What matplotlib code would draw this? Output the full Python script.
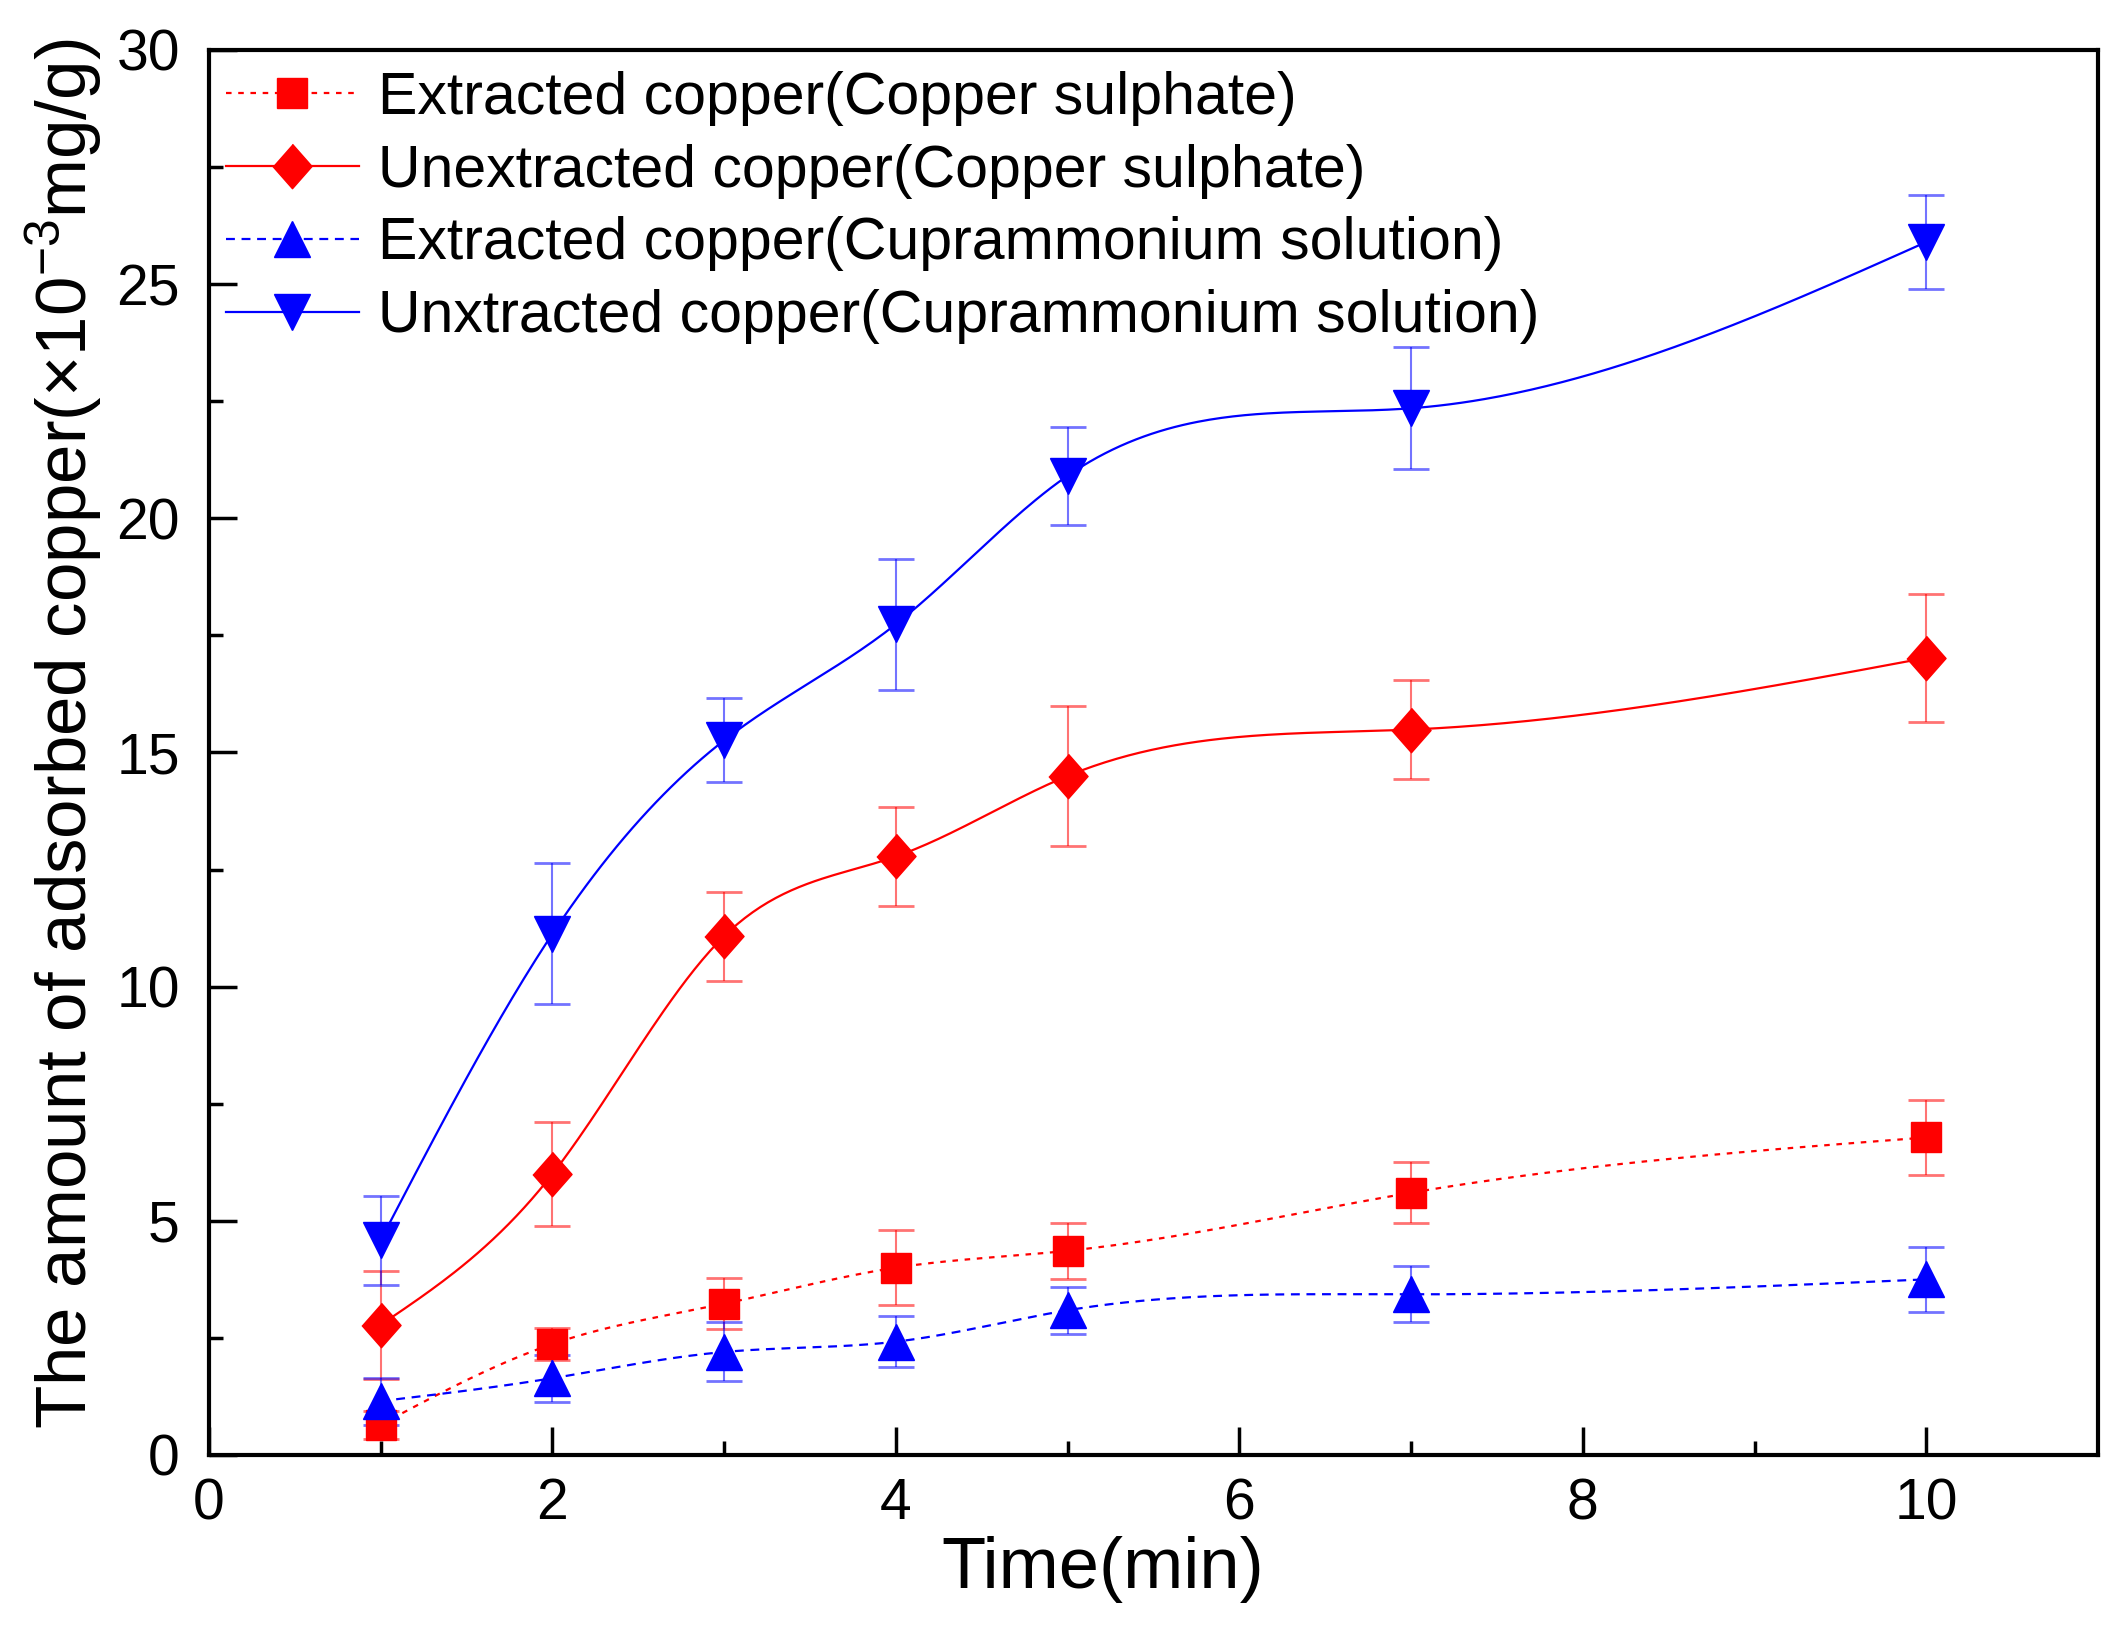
import numpy as np
import matplotlib
matplotlib.use("Agg")
import matplotlib.pyplot as plt

plt.rcParams['font.family'] = ['Liberation Sans', 'DejaVu Sans']
plt.rcParams['mathtext.default'] = 'regular'

# time points (min)
t = [1, 2, 3, 4, 5, 7, 10]

# adsorbed copper (x10^-3 mg/g) and error bars
ext_cs = [0.65, 2.37, 3.23, 4.0, 4.36, 5.6, 6.78]
ext_cs_err = [0.3, 0.35, 0.55, 0.8, 0.6, 0.65, 0.8]
unext_cs = [2.78, 6.0, 11.08, 12.78, 14.5, 15.49, 17.02]
unext_cs_err = [1.15, 1.1, 0.95, 1.05, 1.5, 1.05, 1.37]
ext_cu = [1.15, 1.64, 2.2, 2.42, 3.09, 3.43, 3.75]
ext_cu_err = [0.5, 0.5, 0.63, 0.55, 0.5, 0.6, 0.7]
unext_cu = [4.59, 11.13, 15.26, 17.74, 20.91, 22.35, 25.9]
unext_cu_err = [0.95, 1.5, 0.9, 1.4, 1.05, 1.3, 1.0]

labels = ["Extracted copper(Copper sulphate)",
          "Unextracted copper(Copper sulphate)",
          "Extracted copper(Cuprammonium solution)",
          "Unxtracted copper(Cuprammonium solution)"]


def spline(x, y, n=400):
    # natural cubic spline, only used to draw the connecting curve
    x = np.asarray(x, float)
    y = np.asarray(y, float)
    h = np.diff(x)
    N = len(x)
    A = np.zeros((N, N))
    r = np.zeros(N)
    A[0, 0] = A[-1, -1] = 1
    for i in range(1, N - 1):
        A[i, i - 1] = h[i - 1]
        A[i, i] = 2 * (h[i - 1] + h[i])
        A[i, i + 1] = h[i]
        r[i] = 6 * ((y[i + 1] - y[i]) / h[i] - (y[i] - y[i - 1]) / h[i - 1])
    M = np.linalg.solve(A, r)
    xs = np.linspace(x[0], x[-1], n)
    k = np.clip(np.searchsorted(x, xs) - 1, 0, N - 2)
    hk = h[k]
    a = (x[k + 1] - xs) / hk
    b = (xs - x[k]) / hk
    ys = a * y[k] + b * y[k + 1] + ((a**3 - a) * M[k] + (b**3 - b) * M[k + 1]) * hk**2 / 6
    return xs, ys


diamond = [(0, 1), (0.88, 0), (0, -1), (-0.88, 0)]

series = [
    (ext_cs, ext_cs_err, '#FF0000', (0, (2.5, 3)), 's', 21),
    (unext_cs, unext_cs_err, '#FF0000', '-', diamond, 32),
    (ext_cu, ext_cu_err, '#0000FF', (0, (4, 3)), '^', 26),
    (unext_cu, unext_cu_err, '#0000FF', '-', 'v', 26),
]

fig = plt.figure(figsize=(21.18, 16.28), dpi=100)
ax = fig.add_axes([0.09868, 0.10627, 0.89188, 0.86302])

handles = []
for y, e, c, ls, mk, ms in series:
    ax.errorbar(t, y, yerr=e, fmt='none', ecolor=c, elinewidth=1.5, alpha=0.55,
                capsize=13, capthick=2, zorder=2)
    xs, ys = spline(t, y)
    ln, = ax.plot(xs, ys, color=c, ls=ls, lw=1.6, zorder=2.5)
    mm, = ax.plot(t, y, ls='none', marker=mk, ms=ms, color=c, mec=c, zorder=3)
    handles.append((ln, mm))

ax.set_xlim(0, 11)
ax.set_ylim(0, 30)
ax.set_xticks([0, 2, 4, 6, 8, 10])
ax.set_xticks([1, 3, 5, 7, 9], minor=True)
ax.set_yticks([0, 5, 10, 15, 20, 25, 30])
ax.set_yticks(np.arange(2.5, 30, 5), minor=True)
ax.tick_params(which='both', direction='in', top=False, right=False, width=2.5)
ax.tick_params(which='major', length=20, labelsize=41)
ax.tick_params(which='minor', length=10)
ax.tick_params(axis='x', pad=16)
ax.tick_params(axis='y', pad=21)
for s in ax.spines.values():
    s.set_linewidth(3)

ax.set_xlabel("Time(min)", fontsize=52, va='baseline')
ax.xaxis.set_label_coords(0.473, -0.0947)
ax.set_ylabel(r"The amount of adsorbed copper(×10$^{-3}$mg/g)", fontsize=51, va='baseline')
ax.yaxis.set_label_coords(-0.0646, 0.513)

ax.legend(handles, labels, loc='upper left', bbox_to_anchor=(0.009, 0.985),
          frameon=False, fontsize=42.5, handlelength=2.25, handletextpad=0.33,
          labelspacing=0.3, borderpad=0, borderaxespad=0, numpoints=1)

fig.savefig("out.png", dpi=100)
